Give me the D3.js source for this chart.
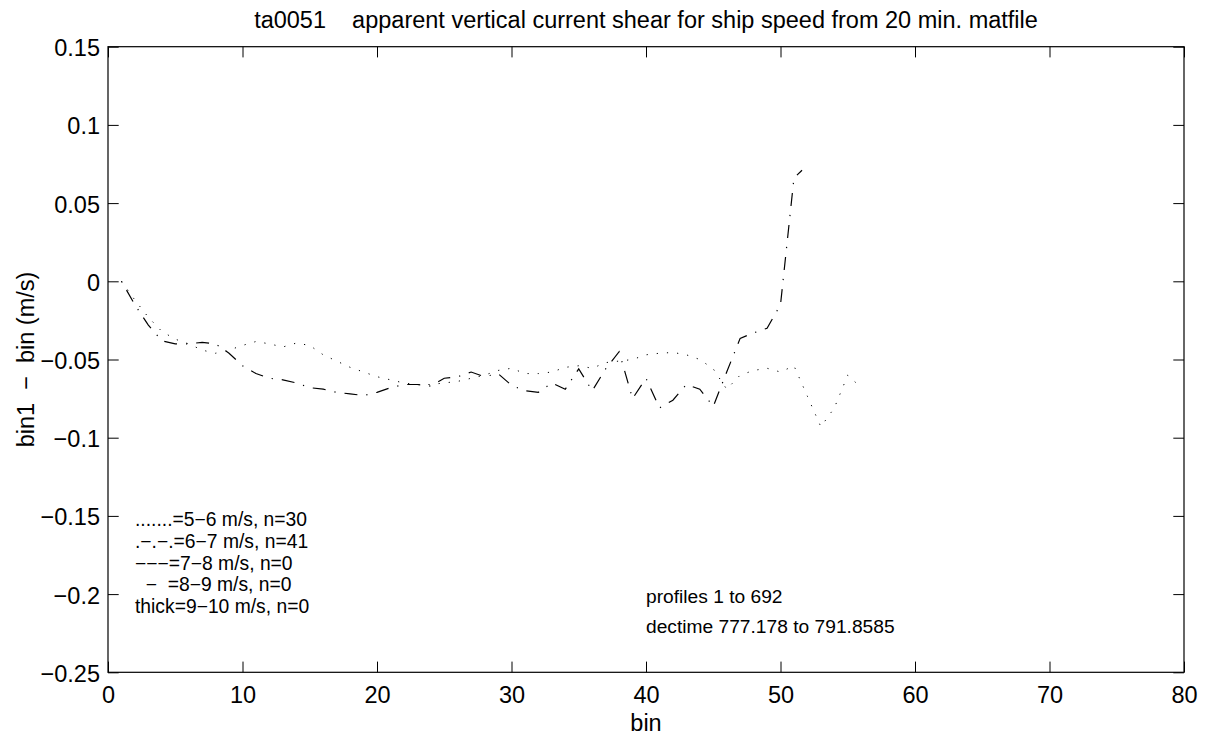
<html>
<head>
<meta charset="utf-8">
<script src="https://cdnjs.cloudflare.com/ajax/libs/d3/7.8.5/d3.min.js"></script>
<style>
  body { margin: 0; background: #fff; }
  text { font-family: "Liberation Sans", Arial, Helvetica, sans-serif; fill: #000; }
</style>
</head>
<body>
<div id="chart"></div>
<script>

// bins and apparent shear (bin1 - bin, m/s) for each ship speed class
var bins56 = [1,2,3,4,5,6,7,8,9,10,11,12,13,14,15,16,17,18,19,20,
              21,22,23,24,25,26,27,28,29,30,31,32,33,34,35,36,37,38,39,40,
              41,42,43,44,45,46,47,48,49,50,51,52,53,54,55,56];
var shear56 = [0,-0.012,-0.023,-0.032,-0.037,-0.040,-0.044,-0.046,-0.044,-0.041,
               -0.0385,-0.040,-0.042,-0.0395,-0.041,-0.047,-0.051,-0.055,-0.058,-0.061,
               -0.063,-0.065,-0.066,-0.066,-0.065,-0.064,-0.062,-0.060,-0.057,-0.0556,
               -0.059,-0.059,-0.058,-0.055,-0.054,-0.0556,-0.052,-0.051,-0.050,-0.047,
               -0.046,-0.0455,-0.047,-0.050,-0.056,-0.069,-0.060,-0.057,-0.0556,-0.058,
               -0.054,-0.0735,-0.093,-0.081,-0.060,-0.068];

var bins67 = [1,2,3,4,5,6,7,8,9,10,11,12,13,14,15,16,17,18,19,20,
              21,22,23,24,25,26,27,28,29,30,31,32,33,34,35,36,37,38,39,40,
              41,42,43,44,45,46,47,48,49,50,51,51.6];
var shear67 = [0,-0.015,-0.028,-0.038,-0.040,-0.040,-0.039,-0.040,-0.046,-0.054,
               -0.059,-0.062,-0.063,-0.065,-0.068,-0.069,-0.071,-0.072,-0.073,-0.071,
               -0.068,-0.066,-0.066,-0.067,-0.062,-0.061,-0.058,-0.061,-0.059,-0.0665,
               -0.070,-0.071,-0.065,-0.069,-0.056,-0.070,-0.056,-0.045,-0.075,-0.062,
               -0.081,-0.076,-0.066,-0.069,-0.080,-0.058,-0.0365,-0.033,-0.030,-0.015,
               0.066,0.071];

var xTicks = [0,10,20,30,40,50,60,70,80];
var yTicks = [-0.25,-0.2,-0.15,-0.1,-0.05,0,0.05,0.1,0.15];

var legendLines = [
  ".......=5\u22126 m/s, n=30",
  ".\u2212.\u2212.=6\u22127 m/s, n=41",
  "\u2212\u2212\u2212=7\u22128 m/s, n=0",
  "  \u2212  =8\u22129 m/s, n=0",
  "thick=9\u221210 m/s, n=0"
];
var noteLines = ["profiles 1 to 692", "dectime 777.178 to 791.8585"];
var titleText = "ta0051    apparent vertical current shear for ship speed from 20 min. matfile";

var W = 1207, H = 738;
var m = {left: 108, right: 23, top: 46.7, bottom: 65.7};
var pw = W - m.left - m.right, ph = H - m.top - m.bottom;

var svg = d3.select("#chart").append("svg")
  .attr("width", W).attr("height", H);

var g = svg.append("g").attr("transform", "translate(" + m.left + "," + m.top + ")");

var x = d3.scaleLinear().domain([0, 80]).range([0, pw]);
var y = d3.scaleLinear().domain([-0.25, 0.15]).range([ph, 0]);

var fmt = function(d){ return d3.format("~g")(d); };
var tickFont = "23.5px";

// bottom axis
var gx = g.append("g").attr("transform", "translate(0," + ph + ")")
  .call(d3.axisBottom(x).tickValues(xTicks).tickFormat(fmt).tickSizeInner(-10.7).tickSizeOuter(0).tickPadding(14));
// left axis
var gy = g.append("g")
  .call(d3.axisLeft(y).tickValues(yTicks).tickFormat(fmt).tickSizeInner(-10.7).tickSizeOuter(0).tickPadding(8));
// top / right ticks
var gt = g.append("g")
  .call(d3.axisTop(x).tickValues(xTicks).tickFormat("").tickSizeInner(-10.7).tickSizeOuter(0));
var gr = g.append("g").attr("transform", "translate(" + pw + ",0)")
  .call(d3.axisRight(y).tickValues(yTicks).tickFormat("").tickSizeInner(-10.7).tickSizeOuter(0));

[gx, gy, gt, gr].forEach(function(a){
  a.select(".domain").remove();
  a.selectAll("line").attr("stroke", "#000").attr("stroke-width", 1);
  a.selectAll("text").style("font-size", tickFont).attr("fill", "#000");
});
gy.selectAll("text").attr("dy", "0.38em");

g.append("rect")
  .attr("x", 0).attr("y", 0).attr("width", pw).attr("height", ph)
  .attr("fill", "none").attr("stroke", "#000").attr("stroke-width", 1.2);

// data lines
var line = d3.line().x(function(d){ return x(d[0]); }).y(function(d){ return y(d[1]); });

g.append("path")
  .datum(d3.zip(bins56, shear56))
  .attr("d", line)
  .attr("fill", "none").attr("stroke", "#000").attr("stroke-width", 1)
  .attr("stroke-dasharray", "1.2,9");

g.append("path")
  .datum(d3.zip(bins67, shear67))
  .attr("d", line)
  .attr("fill", "none").attr("stroke", "#000").attr("stroke-width", 1.2)
  .attr("stroke-dasharray", "13,9,1.2,9")
  .attr("stroke-dashoffset", 22);

// title and labels
svg.append("text")
  .attr("x", m.left + pw / 2).attr("y", 28.3)
  .attr("text-anchor", "middle").style("font-size", "23.5px")
  .style("white-space", "pre")
  .text(titleText);

svg.append("text")
  .attr("x", m.left + pw / 2).attr("y", 731)
  .attr("text-anchor", "middle").style("font-size", tickFont)
  .text("bin");

svg.append("text")
  .attr("transform", "translate(34," + (m.top + ph / 2) + ") rotate(-90)")
  .attr("text-anchor", "middle").style("font-size", tickFont)
  .style("white-space", "pre")
  .text("bin1  \u2212  bin (m/s)");

// legend text block
svg.append("g").selectAll("text")
  .data(legendLines).enter().append("text")
  .attr("x", 135)
  .attr("y", function(d, i){ return 526 + i * 21.8; })
  .style("font-size", "19.3px")
  .style("white-space", "pre")
  .text(function(d){ return d; });

// profile notes
svg.append("g").selectAll("text")
  .data(noteLines).enter().append("text")
  .attr("x", m.left + x(40))
  .attr("y", function(d, i){ return 603 + i * 29.7; })
  .style("font-size", "19.2px")
  .text(function(d){ return d; });

</script>
</body>
</html>
